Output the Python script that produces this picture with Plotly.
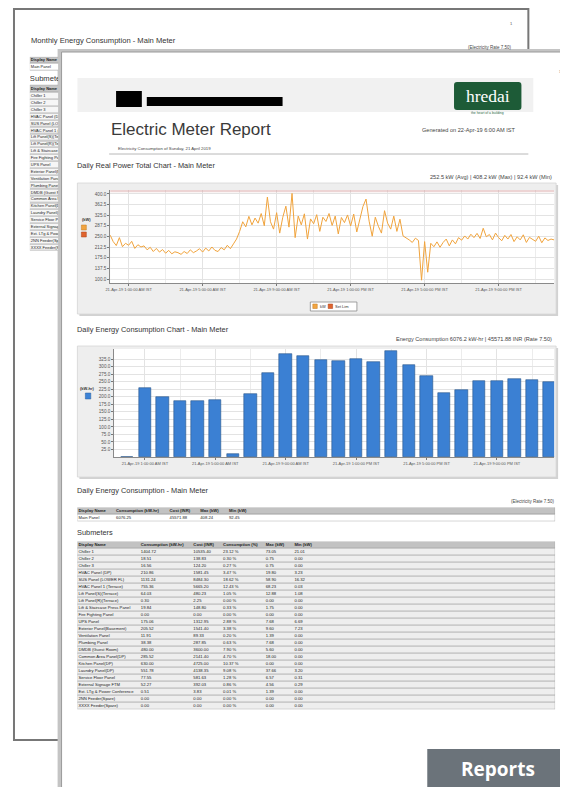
import plotly.graph_objects as go

# page is 568x787; the html body adds an 8px margin, so the figure is 560x779
PAGE_W, PAGE_H = 568, 787
OFF = 8
W, H = PAGE_W - OFF, PAGE_H - OFF

# ---------------- data ----------------
# Daily Real Power Total (kW), 10-minute samples 21-Apr-19 00:00 .. 24:00
sample_minutes = 10
power_kw = [
    255, 232, 218, 246, 214, 226,
    219, 233, 208, 221, 213, 217,
    203, 212, 197, 208, 195, 204,
    191, 201, 189, 196, 193, 187,
    197, 190, 203, 193, 199, 207,
    195, 209, 199, 213, 201, 197,
    211, 203, 219, 207, 224, 241,
    268, 302, 284, 321, 291, 315,
    297, 331, 288, 389, 302, 276,
    334, 262, 318, 357, 283, 402,
    246, 322, 291, 330, 241, 312,
    295, 327, 268, 318, 303, 331,
    289, 322, 259, 317, 299, 326,
    287, 329, 266, 312, 356, 382,
    304, 251, 318, 286, 262, 341,
    297, 276, 322, 268, 311, 252,
    246, 238, 229, 244, 236, 96,
    232, 124, 226, 214, 231, 212,
    229, 241, 217, 238, 224, 246,
    237, 252, 241, 258, 246, 261,
    243, 279, 249, 257, 238, 262,
    246, 235, 254, 241, 257, 232,
    249, 238, 256, 229, 247, 240,
    233, 251, 228, 245, 236, 241,
    238,
]
set_limit_kw = 412
time_tick_hours = [1, 5, 9, 13, 17, 21]
time_tick_labels = [
    "21-Apr-19 1:00:00 AM IST", "21-Apr-19 5:00:00 AM IST", "21-Apr-19 9:00:00 AM IST",
    "21-Apr-19 1:00:00 PM IST", "21-Apr-19 5:00:00 PM IST", "21-Apr-19 9:00:00 PM IST",
]
power_ticks = [100.0, 137.5, 175.0, 212.5, 250.0, 287.5, 325.0, 362.5, 400.0]

# Daily Energy Consumption (kW-hr) per hour slot
energy_slots = list(range(25))
energy_kwh = [0, 228, 199, 185, 185, 188, 11, 209, 278, 344, 336, 324, 318,
              326, 317, 352, 306, 270, 212, 224, 254, 251, 258, 256, 248]
energy_ticks = [25.0, 50.0, 75.0, 100.0, 125.0, 150.0, 175.0, 200.0, 225.0,
                250.0, 275.0, 300.0, 325.0]

power_summary = "252.5 kW (Avg) | 408.2 kW (Max) | 92.4 kW (Min)"
energy_summary = "Energy Consumption 6076.2 kW-hr | 45571.88 INR (Rate 7.50)"

main_headers = ["Display Name", "Consumption (kW-hr)", "Cost (INR)", "Max (kW)", "Min (kW)"]
main_values = ["Main Panel", "6076.25", "45571.88", "408.24", "92.45"]

sub_headers = ["Display Name", "Consumption (kW-hr)", "Cost (INR)", "Consumption (%)", "Max (kW)", "Min (kW)"]
sub_names = [
    "Chiller 1", "Chiller 2", "Chiller 3", "HVAC Panel (DP)", "SUS Panel (LOWER FL)",
    "HVAC Panel 1 (Terrace)", "Lift Panel(S)(Terrace)", "Lift Panel(R)(Terrace)",
    "Lift & Staircase Press Panel", "Fire Fighting Panel", "UPS Panel",
    "Exterior Panel(Basement)", "Ventilation Panel", "Plumbing Panel", "DMDB (Guest Room)",
    "Common Area Panel(DP)", "Kitchen Panel(DP)", "Laundry Panel(DP)", "Service Floor Panel",
    "External Signage FTM", "Ext. LTg & Power Conference", "2NN Feeder(Spare)", "XXXX Feeder(Spare)",
]
sub_kwh = ["1404.72", "18.51", "16.56", "210.86", "1131.24", "755.36", "64.03", "0.30", "19.84",
           "0.00", "175.06", "205.52", "11.91", "38.38", "480.00", "285.52", "630.00", "551.78",
           "77.55", "52.27", "0.51", "0.00", "0.00"]
sub_cost = ["10535.40", "138.83", "124.20", "1581.45", "8484.30", "5665.20", "480.23", "2.25",
            "148.80", "0.00", "1312.95", "1541.40", "89.33", "287.85", "3600.00", "2141.40",
            "4725.00", "4138.35", "581.63", "392.03", "3.83", "0.00", "0.00"]
sub_pct = ["23.12 %", "0.30 %", "0.27 %", "3.47 %", "18.62 %", "12.43 %", "1.05 %", "0.00 %",
           "0.33 %", "0.00 %", "2.88 %", "3.38 %", "0.20 %", "0.63 %", "7.90 %", "4.70 %",
           "10.37 %", "9.08 %", "1.28 %", "0.86 %", "0.01 %", "0.00 %", "0.00 %"]
sub_max = ["73.05", "0.75", "0.75", "19.80", "58.90", "68.23", "12.88", "0.00", "1.75", "0.00",
           "7.68", "9.60", "1.39", "7.68", "5.60", "18.00", "0.00", "37.66", "6.57", "4.56",
           "1.39", "0.00", "0.00"]
sub_min = ["21.01", "0.00", "0.00", "3.23", "16.32", "0.03", "1.08", "0.00", "0.00", "0.00",
           "6.69", "7.23", "0.00", "0.00", "0.00", "0.00", "0.00", "3.20", "0.31", "0.29",
           "0.00", "0.00", "0.00"]

# ---------------- helpers ----------------
FONT = "Liberation Sans, Arial, sans-serif"


def X(px):
    return (px - OFF) / W


def Y(py):
    return 1 - (py - OFF) / H


shapes = []
annotations = []


def rect(x0, y0, x1, y1, fill, line=None, lw=0):
    shapes.append(dict(type="rect", xref="paper", yref="paper", layer="below",
                       x0=X(x0), x1=X(x1), y0=Y(y1), y1=Y(y0), fillcolor=fill,
                       line=dict(color=line or fill, width=lw)))


def hline(x0, x1, y, color, lw=1):
    shapes.append(dict(type="line", xref="paper", yref="paper", layer="below",
                       x0=X(x0), x1=X(x1), y0=Y(y), y1=Y(y), line=dict(color=color, width=lw)))


def text(x, y, s, size, color="#333333", anchor="left", family=FONT):
    annotations.append(dict(xref="paper", yref="paper", x=X(x), y=Y(y), text=s,
                            showarrow=False, xanchor=anchor, yanchor="middle",
                            borderpad=0, font=dict(size=size, color=color, family=family)))


fig = go.Figure()

# ---------------- back page ----------------
rect(9, 9, 528, 740, "#ffffff", "#777777", 2)
text(25, 40, "Monthly Energy Consumption - Main Meter", 7.6, "#333333")
text(512, 47, "(Electricity Rate 7.50)", 4.5, "#444444", "right")
text(511, 23, "1", 4, "#555555", "center")

# ---------------- front page ----------------
rect(53, 49, 600, 800, "#c4c4c4")
rect(57, 52, 600, 800, "#ffffff", "#9a9a9a", 1)
text(560, 72, "1", 3.5, "#777777", "center")

# header band
rect(73, 78, 533, 112, "#f1f1f1")
rect(112, 91, 138, 107, "#000000")
rect(143, 97, 280, 106, "#000000")
shapes.append(dict(type="path", xref="paper", yref="paper", layer="below",
                   path="M {a},{b} L {c},{b} Q {d},{b} {d},{e} L {d},{f} Q {d},{g} {c},{g} "
                        "L {a},{g} Q {h},{g} {h},{f} L {h},{e} Q {h},{b} {a},{b} Z".format(
                       a=X(456), c=X(518), d=X(521), h=X(453),
                       b=Y(82), e=Y(85), f=Y(107), g=Y(110)),
                   fillcolor="#1d5b37", line=dict(color="#1d5b37", width=0)))
text(487, 95.5, "hredai", 17.5, "#ffffff", "center", "Liberation Serif, DejaVu Serif, serif")
text(487, 113.5, "the heart of a building", 3.4, "#2c6b44", "center")

text(106, 130, "Electric Meter Report", 17, "#3a3a3a")
text(517, 130.5, "Generated on 22-Apr-19 6:00 AM IST", 5.6, "#444444", "right")
text(113, 148.5, "Electricity Consumption of Sunday, 21 April 2019", 4.3, "#444444")
hline(105, 528, 154, "#b8b8b8", 1)

# ---------------- chart 1: real power ----------------
text(72, 166, "Daily Real Power Total Chart - Main Meter", 7.4, "#333333")
text(553, 177, power_summary, 5.6, "#444444", "right")
rect(75, 185, 558, 316, "#d2d2d2")
rect(73, 183, 556, 314, "#eeeeee", "#d6d6d6", 0.8)
rect(106, 190, 554, 283, "#ffffff")
text(77, 219.5, "<b>(kW)</b>", 4, "#333333")
rect(77, 225, 82, 230, "#f2a541", "#c07a20", 0.5)
rect(77, 232, 82, 237, "#e0642e", "#a84018", 0.5)
# legend box
rect(308, 302, 355, 311, "#ffffff", "#8a8a8a", 0.8)
rect(310.5, 304, 315, 308.5, "#f2a541", "#c07a20", 0.5)
text(316.5, 306.5, "kW", 4, "#333333")
rect(326, 304, 330.5, 308.5, "#e0642e", "#a84018", 0.5)
text(332, 306.5, "Set Lim", 4, "#333333")

hours = [i * sample_minutes / 60 for i in range(len(power_kw))]
fig.add_trace(go.Scatter(x=[hours[0], hours[-1]], y=[set_limit_kw, set_limit_kw],
                         xaxis="x", yaxis="y", mode="lines",
                         line=dict(color="rgba(214,160,160,0.45)", width=3.5)))
fig.add_trace(go.Scatter(x=hours, y=power_kw, xaxis="x", yaxis="y", mode="lines",
                         line=dict(color="#f0a33c", width=1)))

# ---------------- chart 2: energy ----------------
text(72, 329, "Daily Energy Consumption Chart - Main Meter", 7.4, "#333333")
text(553, 338.5, energy_summary, 5.6, "#444444", "right")
rect(75, 348, 558, 479, "#d2d2d2")
rect(73, 346, 556, 477, "#eeeeee", "#d6d6d6", 0.8)
rect(110, 349, 554, 457, "#ffffff")
text(75, 388.5, "<b>(kW-hr)</b>", 4, "#333333")
rect(81, 393, 86.5, 399, "#3c82d6", "#2a5f9e", 0.5)

fig.add_trace(go.Bar(x=energy_slots, y=energy_kwh, xaxis="x2", yaxis="y2", width=0.7,
                     marker=dict(color="#3b80d3", line=dict(color="#29558a", width=0.6))))

# ---------------- main meter table ----------------
text(72, 490, "Daily Energy Consumption - Main Meter", 7.4, "#333333")
text(556, 501, "(Electricity Rate 7.50)", 4.5, "#444444", "right")
main_col_x = [1, 39, 93, 124, 153]
main_width = 482
fig.add_trace(go.Bar(y=[0, 1], x=[main_width, main_width], base=0, orientation="h",
                     width=1, xaxis="x3", yaxis="y3",
                     marker=dict(color=["#c2c2c2", "#ffffff"],
                                 line=dict(color="#9a9a9a", width=0.6))))
for j, cx in enumerate(main_col_x):
    fig.add_trace(go.Scatter(x=[cx, cx], y=[0, 1], xaxis="x3", yaxis="y3", mode="text",
                             text=["<b>" + main_headers[j] + "</b>", main_values[j]],
                             textposition="middle right",
                             textfont=dict(size=4.2, color="#222222", family=FONT)))

# ---------------- submeter table ----------------
text(72, 532, "Submeters", 7.4, "#333333")
sub_col_x = [1, 64, 117, 147, 190, 219]
sub_width = 482
sub_rows = list(range(len(sub_names) + 1))
sub_columns = [sub_names, sub_kwh, sub_cost, sub_pct, sub_max, sub_min]
fig.add_trace(go.Bar(y=sub_rows, x=[sub_width] * len(sub_rows), base=0, orientation="h",
                     width=1, xaxis="x4", yaxis="y4",
                     marker=dict(color=["#c2c2c2"] + ["#eeeeee"] * len(sub_names),
                                 line=dict(color="#a4a4a4", width=0.6))))
for j, cx in enumerate(sub_col_x):
    fig.add_trace(go.Scatter(x=[cx] * len(sub_rows), y=sub_rows, xaxis="x4", yaxis="y4",
                             mode="text",
                             text=["<b>" + sub_headers[j] + "</b>"] + sub_columns[j],
                             textposition="middle right",
                             textfont=dict(size=4.2, color="#222222", family=FONT)))

# ---------------- back page table (mostly hidden) ----------------
back_rows = [0, 1] + [4.2 + i for i in range(len(sub_names) + 1)]
back_text = (["<b>Display Name</b>", "Main Panel", "<b>Display Name</b>"] + sub_names)
back_fill = ["#c6c6c6", "#ffffff", "#c6c6c6"] + ["#f6f6f6"] * len(sub_names)
fig.add_trace(go.Bar(y=back_rows, x=[40] * len(back_rows), base=0, orientation="h",
                     width=0.95, xaxis="x5", yaxis="y5",
                     marker=dict(color=back_fill, line=dict(color="#a0a0a0", width=0.6))))
fig.add_trace(go.Scatter(x=[1] * len(back_rows), y=back_rows, xaxis="x5", yaxis="y5",
                         mode="text", text=back_text, textposition="middle right",
                         textfont=dict(size=4, color="#222222", family=FONT)))
fig.add_trace(go.Scatter(x=[0], y=[2.7], xaxis="x5", yaxis="y5", mode="text",
                         text=["Submeters"], textposition="middle right",
                         textfont=dict(size=7.6, color="#333333", family=FONT)))

# ---------------- Reports badge ----------------
rect(426, 749, 600, 800, "#6b737a")
annotations.append(dict(xref="paper", yref="paper", x=X(497), y=Y(769), text="<b>Reports</b>",
                        showarrow=False, xanchor="center", yanchor="middle",
                        font=dict(size=19, color="#ffffff", family="Open Sans, sans-serif")))

# ---------------- layout ----------------
tickfont_x = dict(size=4, color="#555555", family=FONT)
tickfont_y = dict(size=4.6, color="#555555", family=FONT)
hidden = dict(visible=False, showgrid=False, zeroline=False, fixedrange=True)

fig.update_layout(
    width=W, height=H, margin=dict(l=0, r=0, t=0, b=0),
    paper_bgcolor="#ffffff", plot_bgcolor="rgba(0,0,0,0)",
    showlegend=False, hovermode=False, bargap=0,
    shapes=shapes, annotations=annotations,
    xaxis=dict(domain=[X(106), X(554)], range=[0, 24], anchor="y",
               tickvals=time_tick_hours, ticktext=time_tick_labels, tickfont=tickfont_x,
               ticks="outside", ticklen=2, tickcolor="#777777", showline=True,
               linecolor="#8a8a8a", linewidth=0.8, showgrid=True, gridcolor="#e3e3e3",
               gridwidth=0.6, zeroline=False,
               minor=dict(dtick=2, tick0=1, showgrid=True, gridcolor="#ececec", gridwidth=0.5)),
    yaxis=dict(domain=[Y(283), Y(190)], range=[86, 414], anchor="x",
               tickvals=power_ticks, ticktext=["%.1f" % v for v in power_ticks],
               tickfont=tickfont_y, ticks="outside", ticklen=2, tickcolor="#777777",
               showline=True, linecolor="#8a8a8a", linewidth=0.8, showgrid=True,
               gridcolor="#e3e3e3", gridwidth=0.6, zeroline=False),
    xaxis2=dict(domain=[X(110), X(554)], range=[-0.75, 24.25], anchor="y2",
                tickvals=time_tick_hours, ticktext=time_tick_labels, tickfont=tickfont_x,
                ticks="outside", ticklen=2, tickcolor="#777777", showline=True,
                linecolor="#8a8a8a", linewidth=0.8, showgrid=True, gridcolor="#e3e3e3",
                gridwidth=0.6, zeroline=False,
                minor=dict(dtick=2, tick0=1, showgrid=True, gridcolor="#ececec", gridwidth=0.5)),
    yaxis2=dict(domain=[Y(457), Y(349)], range=[0, 359], anchor="x2",
                tickvals=energy_ticks, ticktext=["%.1f" % v for v in energy_ticks],
                tickfont=tickfont_y, ticks="outside", ticklen=2, tickcolor="#777777",
                showline=True, linecolor="#8a8a8a", linewidth=0.8, showgrid=True,
                gridcolor="#e3e3e3", gridwidth=0.6, zeroline=False),
    xaxis3=dict(domain=[X(73), X(555)], range=[0, main_width], anchor="y3", **hidden),
    yaxis3=dict(domain=[Y(521.5), Y(507.5)], range=[1.5, -0.5], anchor="x3", **hidden),
    xaxis4=dict(domain=[X(73), X(555)], range=[0, sub_width], anchor="y4", **hidden),
    yaxis4=dict(domain=[Y(709.5), Y(541.5)], range=[23.5, -0.5], anchor="x4", **hidden),
    xaxis5=dict(domain=[X(25), X(53.5)], range=[0, 28.5], anchor="y5", **hidden),
    yaxis5=dict(domain=[Y(251.5), Y(56.5)], range=[27.75, -0.55], anchor="x5", **hidden),
)

fig.write_html("out.html")
